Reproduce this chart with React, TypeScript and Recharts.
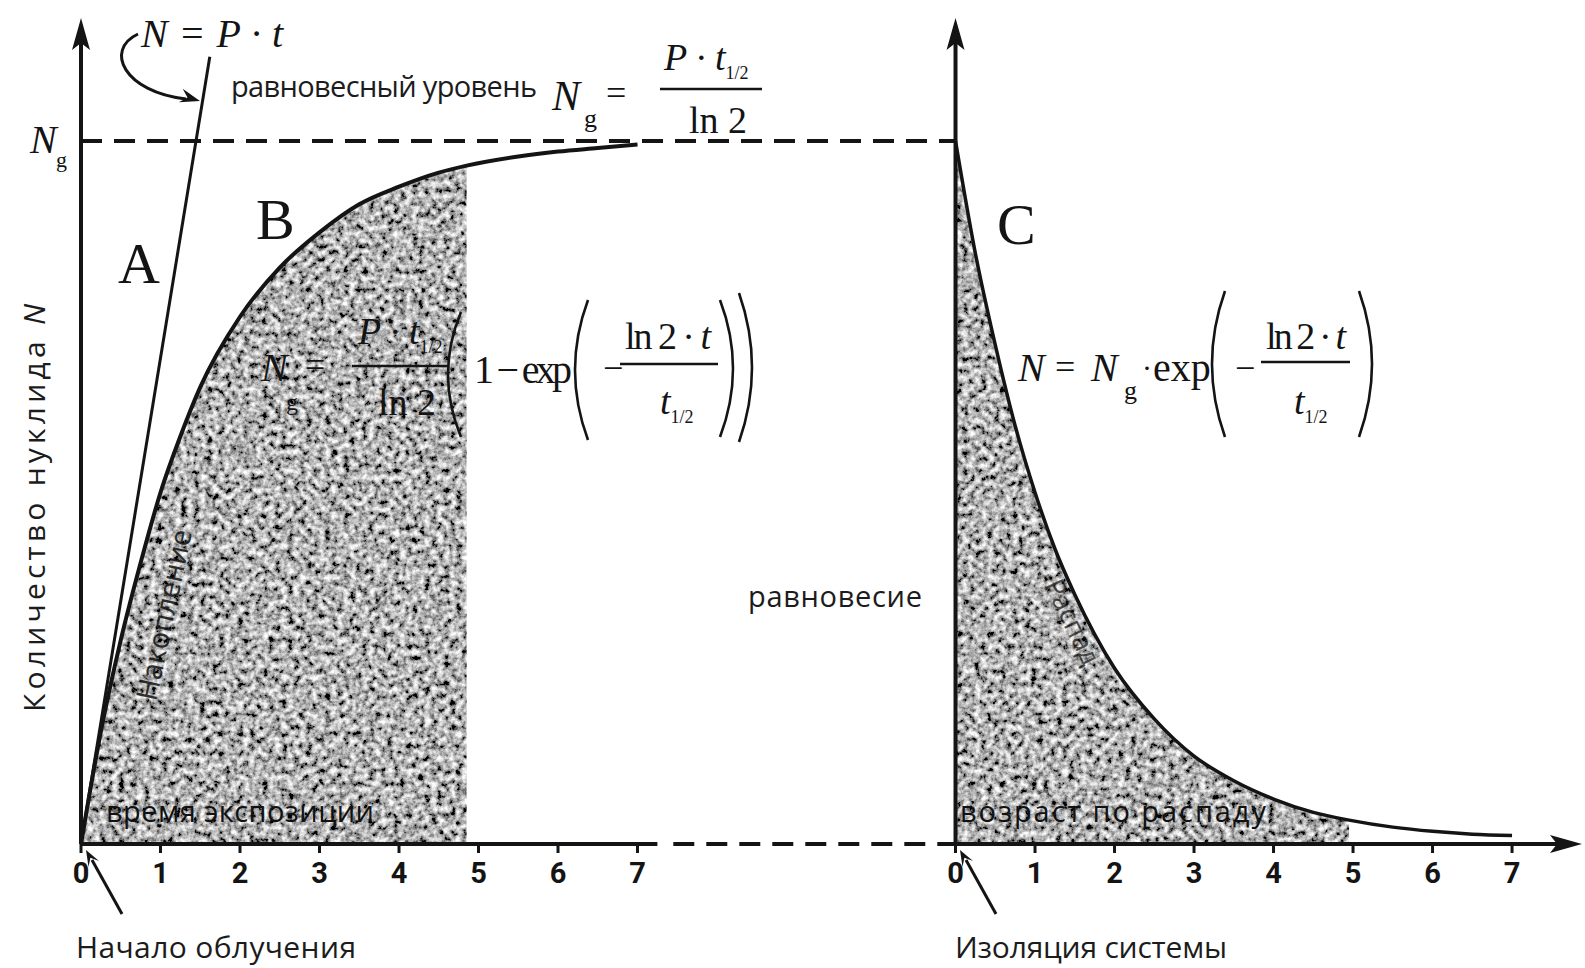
import React from 'react';
import { ComposedChart, Line, Area, XAxis, YAxis, ReferenceLine } from 'recharts';

// time in half-lives, amount in units of the equilibrium level Ng
const GROW_T = [0, 0.25, 0.5, 0.75, 1, 1.25, 1.5, 2, 2.5, 3, 3.5, 4, 4.5, 4.85, 5.5, 6, 6.5, 7];
const GROW_N = [0, 0.16, 0.29, 0.4, 0.5, 0.58, 0.65, 0.75, 0.82, 0.87, 0.91, 0.935, 0.955, 0.965, 0.978, 0.985, 0.99, 0.995];
const DECAY_T = [0, 0.25, 0.5, 0.75, 1, 1.25, 1.5, 2, 2.5, 3, 3.5, 4, 4.5, 4.95, 5.5, 6, 6.5, 7];
const DECAY_N = [1, 0.84, 0.71, 0.595, 0.5, 0.42, 0.355, 0.25, 0.178, 0.125, 0.09, 0.064, 0.045, 0.034, 0.024, 0.018, 0.014, 0.012];
const DIRECT_T = [0, 1.62];
const DIRECT_N = [0, 1.12];
const TICKS = [0, 1, 2, 3, 4, 5, 6, 7];

const SHADE_LAST = 13; // exposure / decay-age shading stops here
const DECAY_OFFSET = 11; // right panel starts 11 units along the shared x scale
const X_MAX = 18.88;
const Y_TOP = 1.175;

const INK = '#141414';
const SERIF = '"Liberation Serif", "DejaVu Serif", serif';
const SANS = '"Open Sans", "Noto Sans", sans-serif';

const growth = GROW_T.map((t, i) => ({ t, n: GROW_N[i] }));
const growthShade = growth.slice(0, SHADE_LAST + 1);
const decay = DECAY_T.map((t, i) => ({ t: t + DECAY_OFFSET, n: DECAY_N[i] }));
const decayShade = decay.slice(0, SHADE_LAST + 1);
const direct = DIRECT_T.map((t, i) => ({ t, n: DIRECT_N[i] }));

function arrowHead(x2: number, y2: number, ang: number, len: number, hw: number) {
  const bx = x2 - len * Math.cos(ang);
  const by = y2 - len * Math.sin(ang);
  const nx = x2 - (len - 7) * Math.cos(ang);
  const ny = y2 - (len - 7) * Math.sin(ang);
  const px = -Math.sin(ang) * hw;
  const py = Math.cos(ang) * hw;
  return `M ${x2} ${y2} L ${bx + px} ${by + py} L ${nx} ${ny} L ${bx - px} ${by - py} Z`;
}

function AxisArrow(props: any) {
  const { x1, y1, x2, y2 } = props;
  const ang = Math.atan2(y2 - y1, x2 - x1);
  const len = 32;
  return (
    <g>
      <line
        x1={x1}
        y1={y1}
        x2={x2 - (len - 8) * Math.cos(ang)}
        y2={y2 - (len - 8) * Math.sin(ang)}
        stroke={INK}
        strokeWidth={4}
      />
      <path d={arrowHead(x2, y2, ang, len, 9)} fill={INK} />
    </g>
  );
}

function Paren({ x, top, bottom, open }: { x: number; top: number; bottom: number; open: boolean }) {
  const d = 13;
  const mid = (top + bottom) / 2;
  const ex = open ? x + d : x - d;
  const cx = open ? x - d : x + d;
  return <path d={`M ${ex} ${top} Q ${cx} ${mid} ${ex} ${bottom}`} fill="none" stroke={INK} strokeWidth={2.6} />;
}

function Sub({ children, dy = 9, size = 18 }: { children: React.ReactNode; dy?: number; size?: number }) {
  return (
    <tspan dy={dy} fontSize={size} fontStyle="normal">
      {children}
    </tspan>
  );
}

function Annotations() {
  const serif = { fontFamily: SERIF, fill: INK };
  const sans = { fontFamily: SANS, fill: '#1c1c1c' };
  return (
    <svg
      width={1585}
      height={968}
      style={{ position: 'absolute', left: 0, top: 0, pointerEvents: 'none' }}
    >
      {/* N = P·t with curved pointer */}
      <text x={141} y={47} fontSize={40} fontStyle="italic" textLength={142} {...serif}>
        N = P · t
      </text>
      <path d="M 138 34 C 104 50, 124 92, 186 99" fill="none" stroke={INK} strokeWidth={3} />
      <path d={arrowHead(200, 101, Math.atan2(4, 14), 20, 7)} fill={INK} />

      {/* equilibrium level */}
      <text x={231} y={97} fontSize={29} textLength={306} {...sans}>
        равновесный уровень
      </text>
      <text x={552} y={110} fontSize={42} fontStyle="italic" {...serif}>
        N
      </text>
      <text x={584} y={127} fontSize={26} {...serif}>
        g
      </text>
      <text x={606} y={105} fontSize={36} {...serif}>
        =
      </text>
      <text x={664} y={70} fontSize={38} fontStyle="italic" {...serif}>
        P · t<Sub>1/2</Sub>
      </text>
      <line x1={660} x2={762} y1={89} y2={89} stroke={INK} strokeWidth={2.6} />
      <text x={689} y={133} fontSize={38} {...serif}>
        ln 2
      </text>

      {/* Ng on the y axis */}
      <text x={30} y={153} fontSize={40} fontStyle="italic" {...serif}>
        N
      </text>
      <text x={56} y={167} fontSize={22} {...serif}>
        g
      </text>

      {/* region letters */}
      <text x={118} y={283} fontSize={58} {...serif}>
        A
      </text>
      <text x={256} y={239} fontSize={58} {...serif}>
        B
      </text>
      <text x={997} y={244} fontSize={58} {...serif}>
        C
      </text>

      {/* accumulation formula */}
      <text x={261} y={381} fontSize={40} fontStyle="italic" {...serif}>
        N
      </text>
      <text x={286} y={410} fontSize={24} {...serif}>
        g
      </text>
      <text x={305} y={377} fontSize={36} {...serif}>
        =
      </text>
      <text x={358} y={344} fontSize={38} fontStyle="italic" {...serif}>
        P · t<Sub>1/2</Sub>
      </text>
      <line x1={352} x2={448} y1={366} y2={366} stroke={INK} strokeWidth={2.6} />
      <text x={378} y={415} fontSize={38} {...serif}>
        ln 2
      </text>
      <Paren x={448} top={312} bottom={437} open />
      <text x={474} y={383} fontSize={40} textLength={98} {...serif}>
        1 − exp
      </text>
      <Paren x={575} top={300} bottom={440} open />
      <text x={603} y={380} fontSize={36} {...serif}>
        −
      </text>
      <text x={625} y={349} fontSize={38} textLength={86} {...serif}>
        ln 2 · <tspan fontStyle="italic">t</tspan>
      </text>
      <line x1={620} x2={718} y1={364} y2={364} stroke={INK} strokeWidth={2.6} />
      <text x={660} y={414} fontSize={38} fontStyle="italic" {...serif}>
        t<Sub>1/2</Sub>
      </text>
      <Paren x={733} top={300} bottom={437} open={false} />
      <Paren x={752} top={293} bottom={442} open={false} />

      {/* decay formula */}
      <text x={1018} y={381} fontSize={40} fontStyle="italic" {...serif}>
        N
      </text>
      <text x={1055} y={379} fontSize={36} {...serif}>
        =
      </text>
      <text x={1091} y={381} fontSize={40} fontStyle="italic" {...serif}>
        N
      </text>
      <text x={1124} y={399} fontSize={26} {...serif}>
        g
      </text>
      <text x={1142} y={378} fontSize={30} {...serif}>
        ·
      </text>
      <text x={1153} y={381} fontSize={40} {...serif}>
        exp
      </text>
      <Paren x={1212} top={291} bottom={437} open />
      <text x={1235} y={380} fontSize={36} {...serif}>
        −
      </text>
      <text x={1266} y={349} fontSize={38} textLength={80} {...serif}>
        ln 2 · <tspan fontStyle="italic">t</tspan>
      </text>
      <line x1={1261} x2={1350} y1={362} y2={362} stroke={INK} strokeWidth={2.6} />
      <text x={1294} y={414} fontSize={38} fontStyle="italic" {...serif}>
        t<Sub>1/2</Sub>
      </text>
      <Paren x={1372} top={291} bottom={437} open={false} />

      {/* labels */}
      <text x={748} y={607} fontSize={29} textLength={174} {...sans}>
        равновесие
      </text>
      <text x={106} y={822} fontSize={29} textLength={268} {...sans} fill="#111">
        время экспозиции
      </text>
      <text x={960} y={822} fontSize={29} textLength={306} {...sans} fill="#111">
        возраст по распаду
      </text>
      <text
        x={0}
        y={0}
        fontSize={29}
        opacity={0.85}
        transform="translate(156 702) rotate(-78)"
        {...sans}
        fill="#111"
      >
        Накопление
      </text>
      <text
        x={0}
        y={0}
        fontSize={27}
        opacity={0.7}
        transform="translate(1044 585) rotate(64)"
        {...sans}
        fill="#111"
      >
        Распад
      </text>

      {/* start markers */}
      <line x1={122} y1={914} x2={92} y2={860} stroke={INK} strokeWidth={3} />
      <path d={arrowHead(86, 850, Math.atan2(-54, -30), 16, 6)} fill={INK} />
      <text x={76} y={958} fontSize={30} textLength={280} {...sans}>
        Начало облучения
      </text>
      <line x1={996} y1={914} x2={966} y2={860} stroke={INK} strokeWidth={3} />
      <path d={arrowHead(960, 850, Math.atan2(-54, -30), 16, 6)} fill={INK} />
      <text x={955} y={958} fontSize={30} textLength={272} {...sans}>
        Изоляция системы
      </text>

      {/* y axis title */}
      <text
        x={0}
        y={0}
        fontSize={30}
        textAnchor="middle"
        textLength={408}
        transform="translate(45 508) rotate(-90)"
        {...sans}
      >
        Количество нуклида <tspan fontStyle="italic">N</tspan>
      </text>
    </svg>
  );
}

export default function App() {
  const tickFmt = (v: number) => String(v >= DECAY_OFFSET ? v - DECAY_OFFSET : v);
  return (
    <div
      style={{
        position: 'absolute',
        left: 0,
        top: 0,
        width: 1585,
        height: 968,
        background: '#fff',
        overflow: 'hidden',
      }}
    >
      <ComposedChart width={1585} height={968} margin={{ top: 18, right: 3, bottom: 84, left: 81 }}>
        <defs>
          <filter id="grainFx" x="0" y="0" width="1" height="1">
            <feTurbulence type="fractalNoise" baseFrequency="0.16" numOctaves="4" seed="5" result="noise" />
            <feColorMatrix
              in="noise"
              type="matrix"
              values="1.9 0 0 0 -0.5  1.9 0 0 0 -0.5  1.9 0 0 0 -0.5  0 0 0 0 1"
            />
          </filter>
          <pattern id="grain" patternUnits="userSpaceOnUse" x="0" y="0" width="1585" height="968">
            <rect width="1585" height="968" fill="#777" filter="url(#grainFx)" />
          </pattern>
        </defs>
        <XAxis
          type="number"
          dataKey="t"
          domain={[0, X_MAX]}
          ticks={[...TICKS, ...TICKS.map((t) => t + DECAY_OFFSET)]}
          tickFormatter={tickFmt}
          interval={0}
          allowDataOverflow
          axisLine={false}
          tickLine={{ stroke: INK, strokeWidth: 3 }}
          tickSize={9}
          tickMargin={9}
          height={40}
          tick={{ fill: INK, fontSize: 29, fontWeight: 700, fontFamily: '"Liberation Sans Narrow", Roboto, sans-serif' }}
        />
        <YAxis type="number" dataKey="n" domain={[0, Y_TOP]} allowDataOverflow hide />

        <Area
          data={growthShade}
          dataKey="n"
          type="monotone"
          stroke="none"
          fill="url(#grain)"
          fillOpacity={1}
          isAnimationActive={false}
        />
        <Area
          data={decayShade}
          dataKey="n"
          type="monotone"
          stroke="none"
          fill="url(#grain)"
          fillOpacity={1}
          isAnimationActive={false}
        />
        <Line data={growth} dataKey="n" type="monotone" stroke={INK} strokeWidth={4} dot={false} activeDot={false} isAnimationActive={false} />
        <Line data={decay} dataKey="n" type="monotone" stroke={INK} strokeWidth={3.5} dot={false} activeDot={false} isAnimationActive={false} />
        <Line data={direct} dataKey="n" type="linear" stroke={INK} strokeWidth={3} dot={false} activeDot={false} isAnimationActive={false} />

        <ReferenceLine segment={[{ x: 0, y: 1 }, { x: DECAY_OFFSET, y: 1 }]} stroke={INK} strokeWidth={4} strokeDasharray="21 12" ifOverflow="visible" />
        <ReferenceLine segment={[{ x: 7.45, y: 0 }, { x: DECAY_OFFSET, y: 0 }]} stroke={INK} strokeWidth={4} strokeDasharray="21 12" ifOverflow="visible" />
        <ReferenceLine segment={[{ x: 0, y: 0 }, { x: 7.25, y: 0 }]} stroke={INK} strokeWidth={4} ifOverflow="visible" />
        <ReferenceLine segment={[{ x: 0, y: 0 }, { x: 0, y: Y_TOP }]} shape={AxisArrow} ifOverflow="visible" />
        <ReferenceLine segment={[{ x: DECAY_OFFSET, y: 0 }, { x: DECAY_OFFSET, y: Y_TOP }]} shape={AxisArrow} ifOverflow="visible" />
        <ReferenceLine segment={[{ x: DECAY_OFFSET, y: 0 }, { x: X_MAX, y: 0 }]} shape={AxisArrow} ifOverflow="visible" />
      </ComposedChart>
      <Annotations />
    </div>
  );
}
